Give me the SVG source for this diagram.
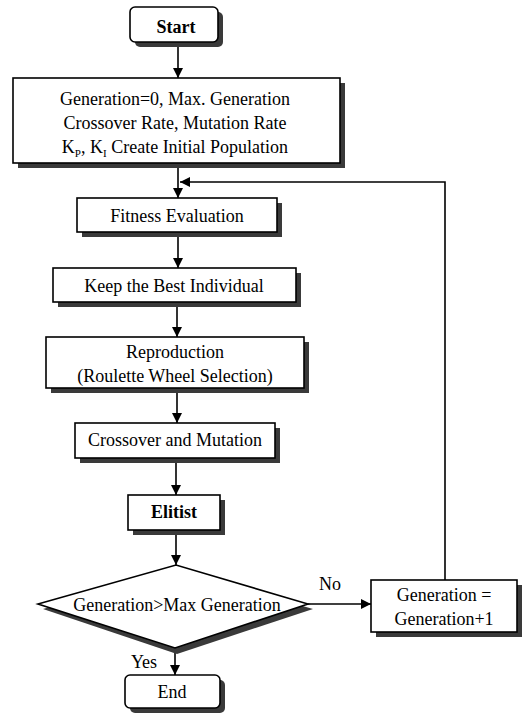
<svg xmlns="http://www.w3.org/2000/svg" width="524" height="716" viewBox="0 0 524 716">
<style>
.box{fill:#fff;stroke:#000;stroke-width:1.6}
.sh{fill:#3a3a3a}
.t{font-family:"Liberation Serif","Times New Roman",serif;font-size:18px;fill:#000;text-anchor:middle}
.b{font-weight:bold}
.c{fill:none;stroke:#000;stroke-width:1.6}
</style>
<defs>
<marker id="ah" viewBox="0 0 10 10" refX="10" refY="5" markerWidth="10" markerHeight="10" markerUnits="userSpaceOnUse" orient="auto">
<path d="M0,0 L10,5 L0,10 z" fill="#000"/>
</marker>
</defs>
<rect width="524" height="716" fill="#fff"/>
<g id="connectors">
<line class="c" x1="178" y1="42" x2="178" y2="78" marker-end="url(#ah)"/>
<line class="c" x1="178" y1="163" x2="178" y2="198" marker-end="url(#ah)"/>
<polyline class="c" points="445,580 445,182 180,182" marker-end="url(#ah)"/>
<line class="c" x1="178" y1="232" x2="178" y2="268" marker-end="url(#ah)"/>
<line class="c" x1="177" y1="302" x2="177" y2="337" marker-end="url(#ah)"/>
<line class="c" x1="177" y1="388" x2="177" y2="423" marker-end="url(#ah)"/>
<line class="c" x1="176" y1="458" x2="176" y2="495" marker-end="url(#ah)"/>
<line class="c" x1="176" y1="530" x2="176" y2="565" marker-end="url(#ah)"/>
<line class="c" x1="308" y1="604" x2="371" y2="604" marker-end="url(#ah)"/>
<line class="c" x1="175" y1="648" x2="175" y2="675" marker-end="url(#ah)"/>
<text class="t" x="330" y="590">No</text>
<text class="t" x="144" y="668">Yes</text>
</g>
<g id="start">
<rect class="sh" x="135" y="12" width="88" height="35" rx="5"/>
<rect class="box" x="130" y="7" width="88" height="35" rx="5"/>
<text class="t b" x="176" y="33">Start</text>
</g>
<g id="init">
<rect class="sh" x="18" y="83" width="327" height="85"/>
<rect class="box" x="13" y="78" width="327" height="85"/>
<text class="t" x="175" y="105">Generation=0, Max. Generation</text>
<text class="t" x="175" y="129">Crossover Rate, Mutation Rate</text>
<text class="t" x="175" y="153">K<tspan font-size="11" dy="4">P</tspan><tspan dy="-4">, K</tspan><tspan font-size="11" dy="4">I</tspan><tspan dy="-4"> Create Initial Population</tspan></text>
</g>
<g id="fitness">
<rect class="sh" x="82" y="203" width="200" height="34"/>
<rect class="box" x="77" y="198" width="200" height="34"/>
<text class="t" x="177" y="222">Fitness Evaluation</text>
</g>
<g id="keep">
<rect class="sh" x="58" y="273" width="243" height="34"/>
<rect class="box" x="53" y="268" width="243" height="34"/>
<text class="t" x="174" y="292">Keep the Best Individual</text>
</g>
<g id="repro">
<rect class="sh" x="51" y="342" width="258" height="51"/>
<rect class="box" x="46" y="337" width="258" height="51"/>
<text class="t" x="175" y="358">Reproduction</text>
<text class="t" x="175" y="382">(Roulette Wheel Selection)</text>
</g>
<g id="crossover">
<rect class="sh" x="80" y="428" width="200" height="35"/>
<rect class="box" x="75" y="423" width="200" height="35"/>
<text class="t" x="175" y="446">Crossover and Mutation</text>
</g>
<g id="elitist">
<rect class="sh" x="133" y="500" width="92" height="35"/>
<rect class="box" x="128" y="495" width="92" height="35"/>
<text class="t b" x="174" y="518">Elitist</text>
</g>
<g id="decision">
<polygon class="sh" points="43,609 177,570 313,609 177,654"/>
<polygon class="box" points="38,604 176,565 308,604 175,648"/>
<text class="t" x="177" y="611">Generation&gt;Max Generation</text>
</g>
<g id="increment">
<rect class="sh" x="376" y="585" width="146" height="52"/>
<rect class="box" x="371" y="580" width="146" height="52"/>
<text class="t" x="444" y="601">Generation =</text>
<text class="t" x="444" y="625">Generation+1</text>
</g>
<g id="end">
<rect class="sh" x="130" y="680" width="95" height="33" rx="5"/>
<rect class="box" x="125" y="675" width="95" height="33" rx="5"/>
<text class="t" x="172" y="698">End</text>
</g>
</svg>
